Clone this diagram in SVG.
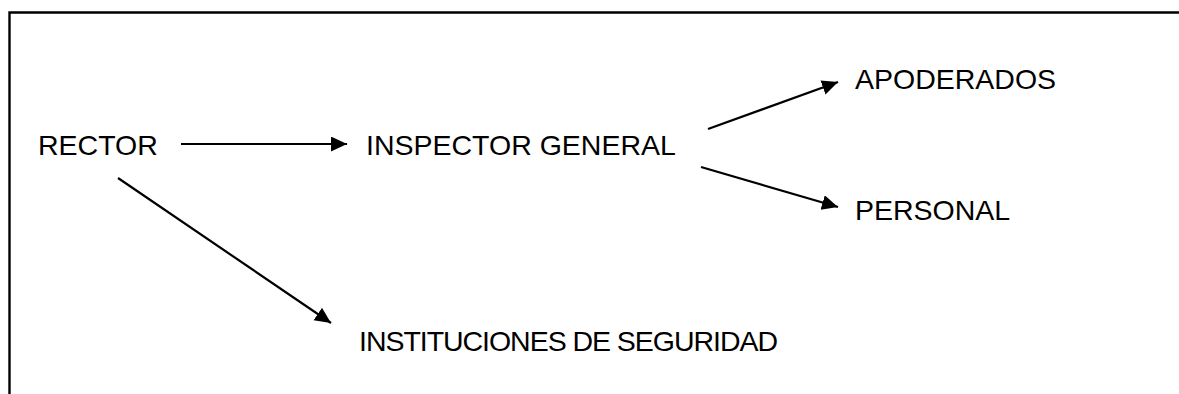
<svg xmlns="http://www.w3.org/2000/svg" width="1179" height="394" viewBox="0 0 1179 394">
<defs>
<style>
.t{font-family:"Liberation Sans",Arial,sans-serif;font-size:28.5px;fill:#000}
.c{stroke:#000;stroke-width:2.2;fill:none;marker-end:url(#ah)}
.b{stroke:#000;stroke-width:2.4;fill:none}
</style>
<marker id="ah" markerUnits="userSpaceOnUse" markerWidth="18" markerHeight="16" refX="16" refY="7.5" orient="auto" viewBox="0 0 18 16">
<path d="M0,0 L16,7.5 L0,15 Z" fill="#000"/>
</marker>
</defs>
<rect width="1179" height="394" fill="#fff"/>
<path class="b" d="M9.5,394 V12.5 H1179"/>
<g id="rector"><text class="t" x="38" y="155">RECTOR</text></g>
<g id="inspector"><text class="t" x="366" y="155">INSPECTOR GENERAL</text></g>
<g id="apoderados"><text class="t" x="855" y="89">APODERADOS</text></g>
<g id="personal"><text class="t" x="855" y="220">PERSONAL</text></g>
<g id="instituciones"><text class="t" x="359" y="351" textLength="419" lengthAdjust="spacing">INSTITUCIONES DE SEGURIDAD</text></g>
<g id="connectors">
<line class="c" x1="181" y1="144" x2="347" y2="144"/>
<line class="c" x1="708" y1="129" x2="838" y2="82"/>
<line class="c" x1="701" y1="167" x2="838" y2="207"/>
<line class="c" x1="118" y1="178" x2="331" y2="323"/>
</g>
</svg>
